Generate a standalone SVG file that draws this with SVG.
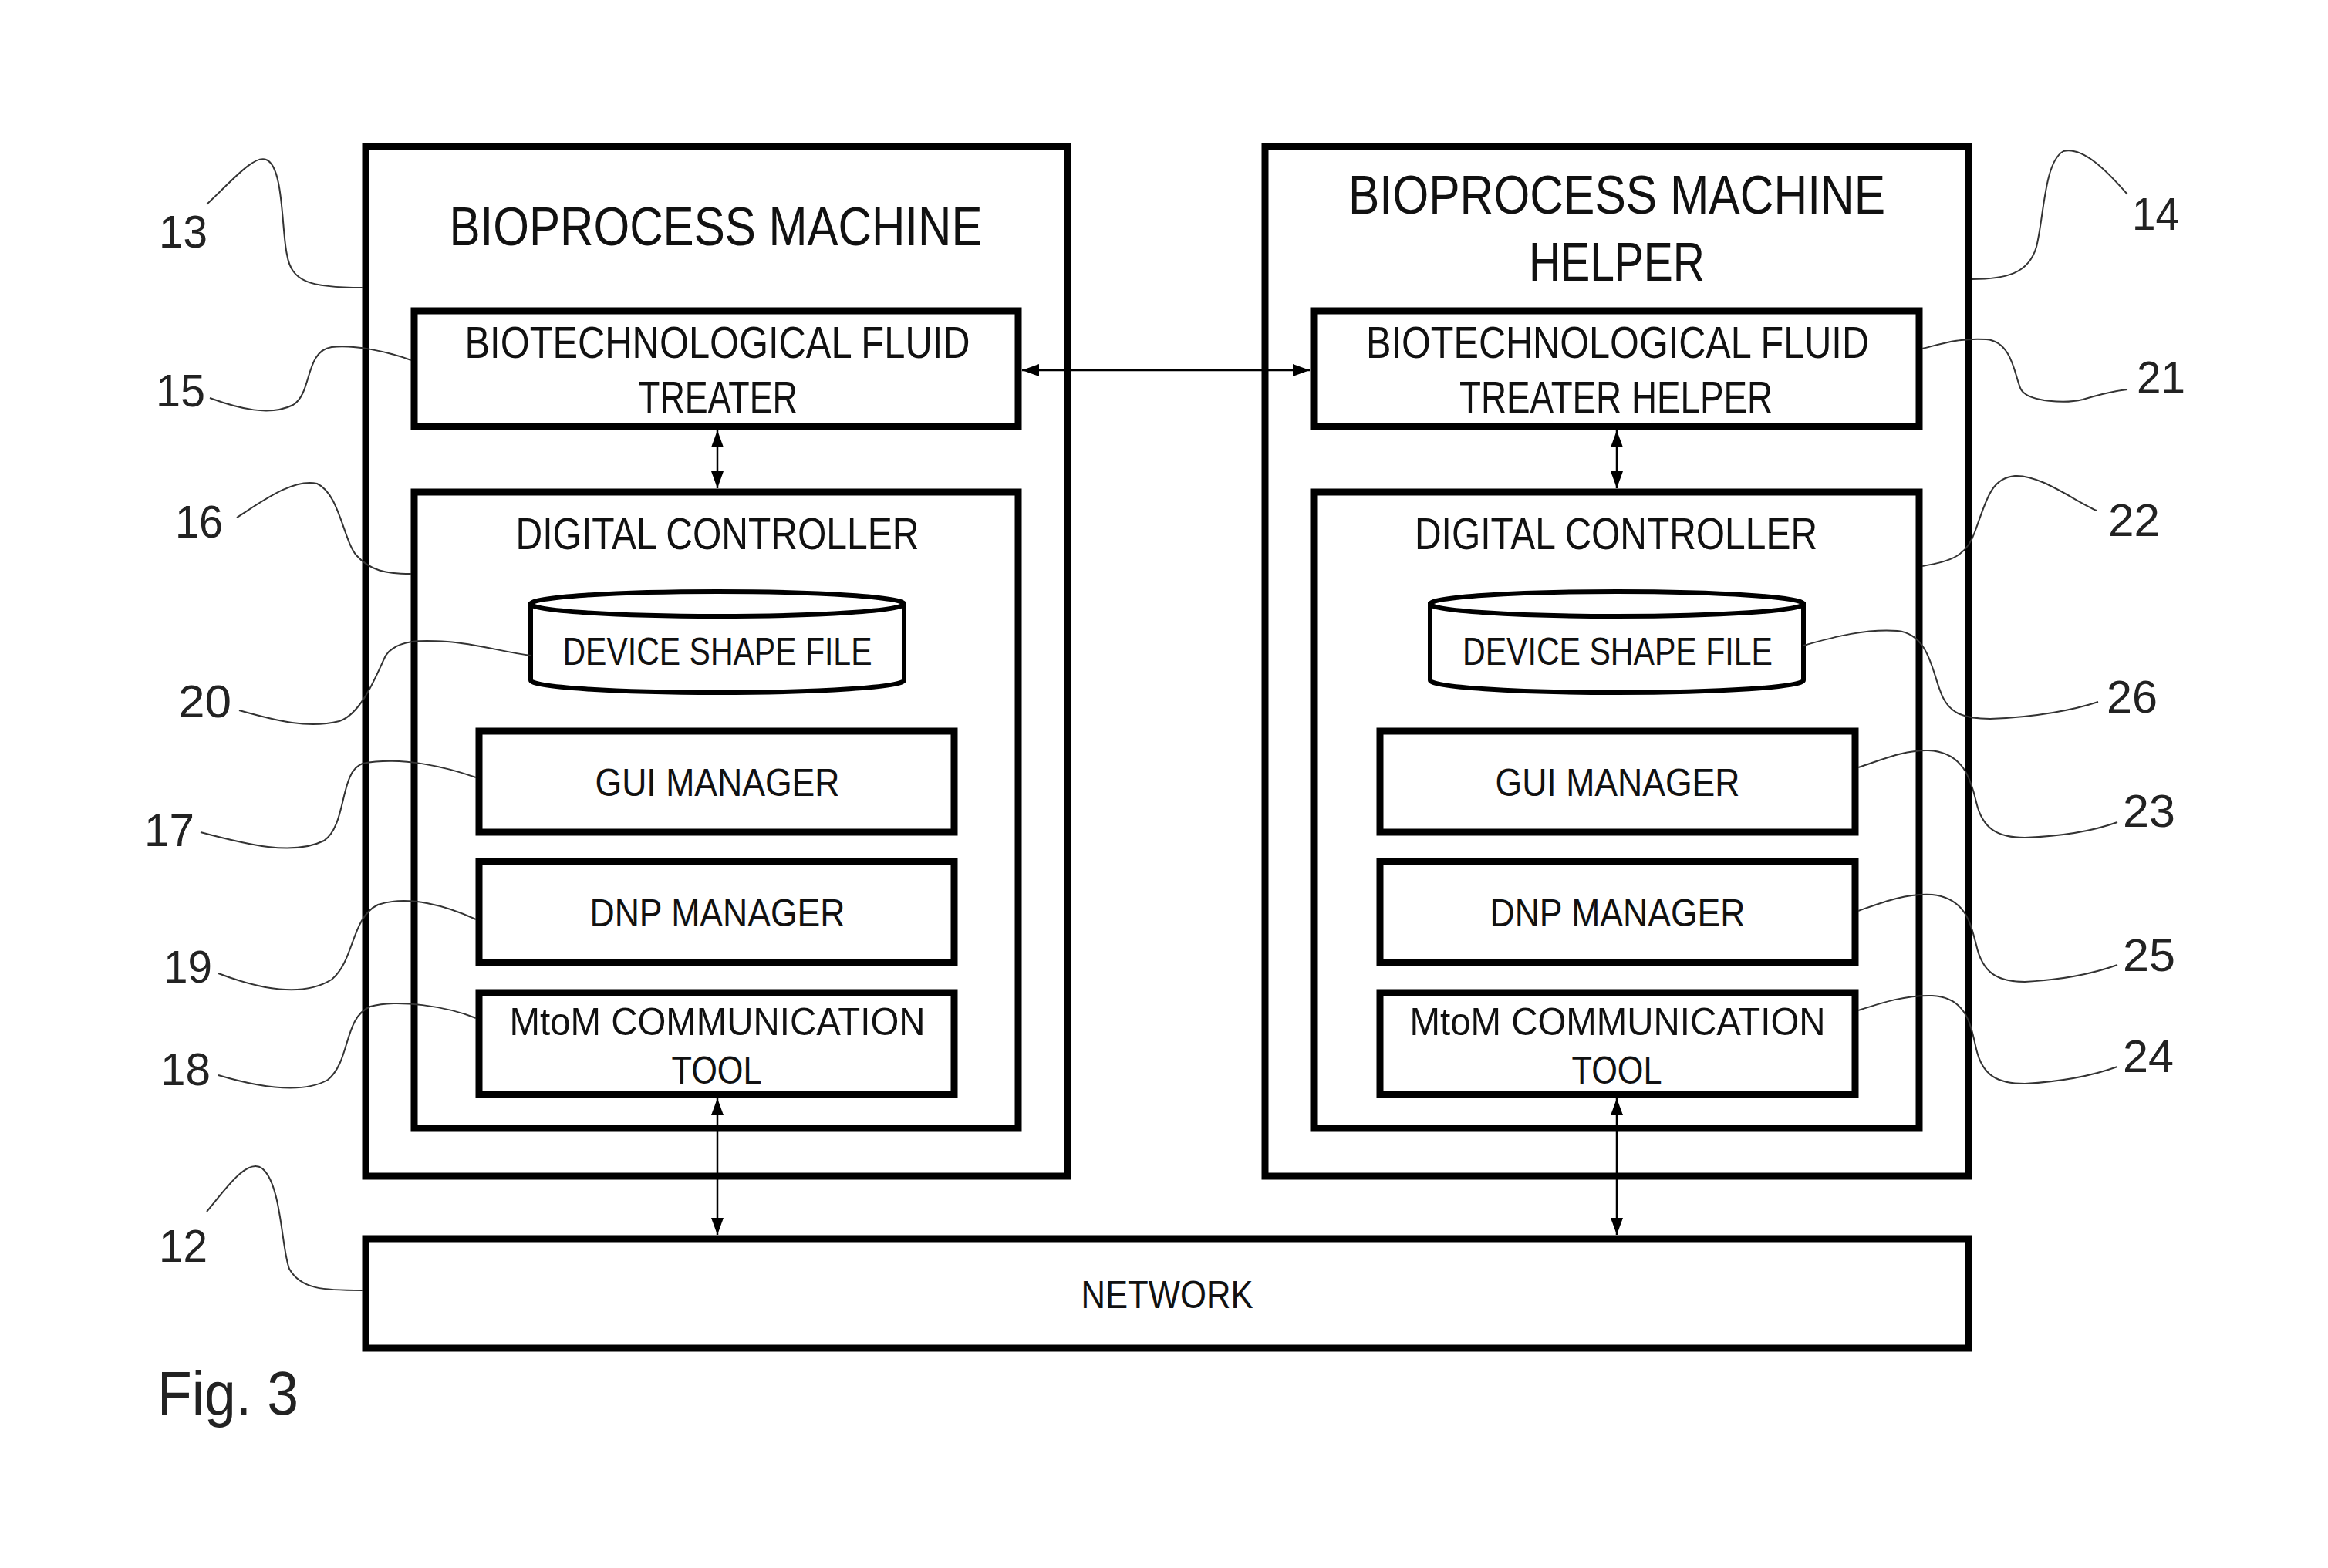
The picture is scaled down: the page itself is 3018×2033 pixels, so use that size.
<svg xmlns="http://www.w3.org/2000/svg" width="3018" height="2033" viewBox="0 0 3018 2033">
<style>
.box{fill:none;stroke:#000;stroke-width:9}
.cyl{fill:#fff;stroke:#000;stroke-width:6}
.t{font-family:"Liberation Sans",Arial,sans-serif;fill:#111;text-anchor:middle}
.big{font-size:70px}
.mid{font-size:58px}
.sm{font-size:50px}
.num{font-family:"Liberation Sans",Arial,sans-serif;font-size:60px;fill:#222}
.lead{fill:none;stroke:#333;stroke-width:2}
.conn{fill:none;stroke:#000;stroke-width:2.5}
</style>
<defs>
<marker id="ah" markerUnits="userSpaceOnUse" markerWidth="22" markerHeight="16" refX="22" refY="8" orient="auto-start-reverse">
<path d="M0,0 L22,8 L0,16 z" fill="#000"/>
</marker>
</defs>
<rect width="3018" height="2033" fill="#fff"/>

<g id="machine">
<rect class="box" x="474" y="190" width="910" height="1335"/>
<text class="t big" x="928" y="318" textLength="691" lengthAdjust="spacingAndGlyphs">BIOPROCESS MACHINE</text>
</g>
<g id="machine-helper">
<rect class="box" x="1640" y="190" width="912" height="1335"/>
<text class="t big" x="2096" y="277" textLength="696" lengthAdjust="spacingAndGlyphs">BIOPROCESS MACHINE</text>
<text class="t big" x="2096" y="364" textLength="228" lengthAdjust="spacingAndGlyphs">HELPER</text>
</g>

<g id="treater">
<rect class="box" x="537" y="403" width="783" height="150"/>
<text class="t mid" x="930" y="464" textLength="655" lengthAdjust="spacingAndGlyphs">BIOTECHNOLOGICAL FLUID</text>
<text class="t mid" x="931" y="535" textLength="206" lengthAdjust="spacingAndGlyphs">TREATER</text>
</g>
<g id="treater-helper">
<rect class="box" x="1703" y="403" width="785" height="150"/>
<text class="t mid" x="2097" y="464" textLength="652" lengthAdjust="spacingAndGlyphs">BIOTECHNOLOGICAL FLUID</text>
<text class="t mid" x="2095" y="535" textLength="406" lengthAdjust="spacingAndGlyphs">TREATER HELPER</text>
</g>

<g id="controller-left">
<rect class="box" x="537" y="638" width="783" height="825"/>
<text class="t mid" x="930" y="712" textLength="523" lengthAdjust="spacingAndGlyphs">DIGITAL CONTROLLER</text>
</g>
<g id="controller-right">
<rect class="box" x="1703" y="638" width="785" height="825"/>
<text class="t mid" x="2095" y="712" textLength="522" lengthAdjust="spacingAndGlyphs">DIGITAL CONTROLLER</text>
</g>

<g id="shape-file-left">
<path class="cyl" d="M688,783 L688,882 A242,16 0 0 0 1172,882 L1172,783 Z"/>
<ellipse class="cyl" cx="930" cy="783" rx="242" ry="16"/>
<text class="t sm" x="930" y="862" textLength="401" lengthAdjust="spacingAndGlyphs">DEVICE SHAPE FILE</text>
</g>
<g id="shape-file-right">
<path class="cyl" d="M1854,783 L1854,882 A242,16 0 0 0 2338,882 L2338,783 Z"/>
<ellipse class="cyl" cx="2096" cy="783" rx="242" ry="16"/>
<text class="t sm" x="2097" y="862" textLength="402" lengthAdjust="spacingAndGlyphs">DEVICE SHAPE FILE</text>
</g>

<g id="gui-left">
<rect class="box" x="621" y="948" width="616" height="131"/>
<text class="t sm" x="930" y="1032" textLength="317" lengthAdjust="spacingAndGlyphs">GUI MANAGER</text>
</g>
<g id="dnp-left">
<rect class="box" x="621" y="1117" width="616" height="131"/>
<text class="t sm" x="930" y="1201" textLength="331" lengthAdjust="spacingAndGlyphs">DNP MANAGER</text>
</g>
<g id="mtom-left">
<rect class="box" x="621" y="1287" width="616" height="132"/>
<text class="t sm" x="930" y="1342" textLength="539" lengthAdjust="spacingAndGlyphs">MtoM COMMUNICATION</text>
<text class="t sm" x="929" y="1405" textLength="117" lengthAdjust="spacingAndGlyphs">TOOL</text>
</g>
<g id="gui-right">
<rect class="box" x="1789" y="948" width="616" height="131"/>
<text class="t sm" x="2097" y="1032" textLength="317" lengthAdjust="spacingAndGlyphs">GUI MANAGER</text>
</g>
<g id="dnp-right">
<rect class="box" x="1789" y="1117" width="616" height="131"/>
<text class="t sm" x="2097" y="1201" textLength="331" lengthAdjust="spacingAndGlyphs">DNP MANAGER</text>
</g>
<g id="mtom-right">
<rect class="box" x="1789" y="1287" width="616" height="132"/>
<text class="t sm" x="2097" y="1342" textLength="539" lengthAdjust="spacingAndGlyphs">MtoM COMMUNICATION</text>
<text class="t sm" x="2096" y="1405" textLength="117" lengthAdjust="spacingAndGlyphs">TOOL</text>
</g>

<g id="network">
<rect class="box" x="474" y="1606" width="2078" height="142"/>
<text class="t sm" x="1513" y="1696" textLength="223" lengthAdjust="spacingAndGlyphs">NETWORK</text>
</g>

<g id="connectors">
<line class="conn" x1="1325" y1="480" x2="1698" y2="480" marker-start="url(#ah)" marker-end="url(#ah)"/>
<line class="conn" x1="930" y1="558" x2="930" y2="633" marker-start="url(#ah)" marker-end="url(#ah)"/>
<line class="conn" x1="2096" y1="558" x2="2096" y2="633" marker-start="url(#ah)" marker-end="url(#ah)"/>
<line class="conn" x1="930" y1="1424" x2="930" y2="1601" marker-start="url(#ah)" marker-end="url(#ah)"/>
<line class="conn" x1="2096" y1="1424" x2="2096" y2="1601" marker-start="url(#ah)" marker-end="url(#ah)"/>
</g>

<g id="leaders">
<path class="lead" d="M268,265 C300,235 330,200 345,207 C368,215 365,300 372,330 C378,365 400,373 470,373"/>
<path class="lead" d="M272,516 C310,530 350,540 380,525 C405,510 395,455 430,450 C460,447 500,455 533,467"/>
<path class="lead" d="M307,671 C340,650 380,620 411,627 C440,640 445,700 462,720 C480,740 500,744 533,744"/>
<path class="lead" d="M310,921 C360,935 400,945 440,935 C470,925 490,870 500,850 C515,828 550,830 580,832 C620,835 650,845 688,850"/>
<path class="lead" d="M260,1079 C320,1095 380,1110 420,1090 C450,1070 440,1000 470,990 C520,980 580,995 617,1008"/>
<path class="lead" d="M283,1262 C330,1280 390,1295 430,1270 C460,1245 455,1190 490,1173 C530,1160 580,1175 617,1192"/>
<path class="lead" d="M283,1394 C330,1408 390,1420 425,1400 C455,1375 445,1320 480,1305 C515,1295 580,1305 617,1320"/>
<path class="lead" d="M268,1571 C290,1545 320,1500 340,1515 C365,1535 365,1620 375,1645 C390,1672 420,1673 470,1673"/>
<path class="lead" d="M2556,362 C2600,362 2630,355 2640,320 C2650,280 2650,210 2675,196 C2700,190 2730,220 2758,252"/>
<path class="lead" d="M2492,452 C2520,445 2540,438 2575,440 C2610,443 2612,490 2620,505 C2630,522 2680,523 2700,518 C2720,512 2740,507 2758,505"/>
<path class="lead" d="M2492,734 C2530,728 2550,720 2560,690 C2575,650 2580,620 2612,617 C2645,615 2690,650 2718,662"/>
<path class="lead" d="M2338,837 C2380,825 2420,815 2460,818 C2500,822 2505,870 2515,895 C2525,925 2545,932 2580,932 C2640,930 2690,920 2720,910"/>
<path class="lead" d="M2409,995 C2440,985 2470,972 2500,973 C2545,975 2555,1010 2562,1040 C2570,1075 2590,1086 2625,1086 C2680,1084 2720,1075 2745,1066"/>
<path class="lead" d="M2409,1181 C2440,1170 2470,1158 2505,1160 C2550,1165 2555,1200 2562,1225 C2570,1262 2590,1273 2625,1273 C2680,1270 2720,1260 2745,1251"/>
<path class="lead" d="M2409,1310 C2440,1300 2470,1290 2505,1291 C2550,1293 2555,1330 2562,1360 C2570,1395 2590,1405 2625,1405 C2680,1402 2720,1392 2745,1383"/>
</g>

<g id="labels">
<text class="num" x="206" y="321" textLength="63" lengthAdjust="spacingAndGlyphs">13</text>
<text class="num" x="202" y="527" textLength="64" lengthAdjust="spacingAndGlyphs">15</text>
<text class="num" x="227" y="697" textLength="62" lengthAdjust="spacingAndGlyphs">16</text>
<text class="num" x="231" y="930" textLength="69" lengthAdjust="spacingAndGlyphs">20</text>
<text class="num" x="187" y="1097" textLength="65" lengthAdjust="spacingAndGlyphs">17</text>
<text class="num" x="212" y="1274" textLength="63" lengthAdjust="spacingAndGlyphs">19</text>
<text class="num" x="208" y="1407" textLength="65" lengthAdjust="spacingAndGlyphs">18</text>
<text class="num" x="206" y="1636" textLength="63" lengthAdjust="spacingAndGlyphs">12</text>
<text class="num" x="2764" y="298" textLength="61" lengthAdjust="spacingAndGlyphs">14</text>
<text class="num" x="2770" y="510" textLength="63" lengthAdjust="spacingAndGlyphs">21</text>
<text class="num" x="2733" y="695" textLength="67" lengthAdjust="spacingAndGlyphs">22</text>
<text class="num" x="2731" y="924" textLength="66" lengthAdjust="spacingAndGlyphs">26</text>
<text class="num" x="2752" y="1072" textLength="68" lengthAdjust="spacingAndGlyphs">23</text>
<text class="num" x="2752" y="1259" textLength="68" lengthAdjust="spacingAndGlyphs">25</text>
<text class="num" x="2752" y="1390" textLength="66" lengthAdjust="spacingAndGlyphs">24</text>
<text class="num" x="204" y="1834" style="font-size:80px" textLength="183" lengthAdjust="spacingAndGlyphs">Fig. 3</text>
</g>
</svg>
